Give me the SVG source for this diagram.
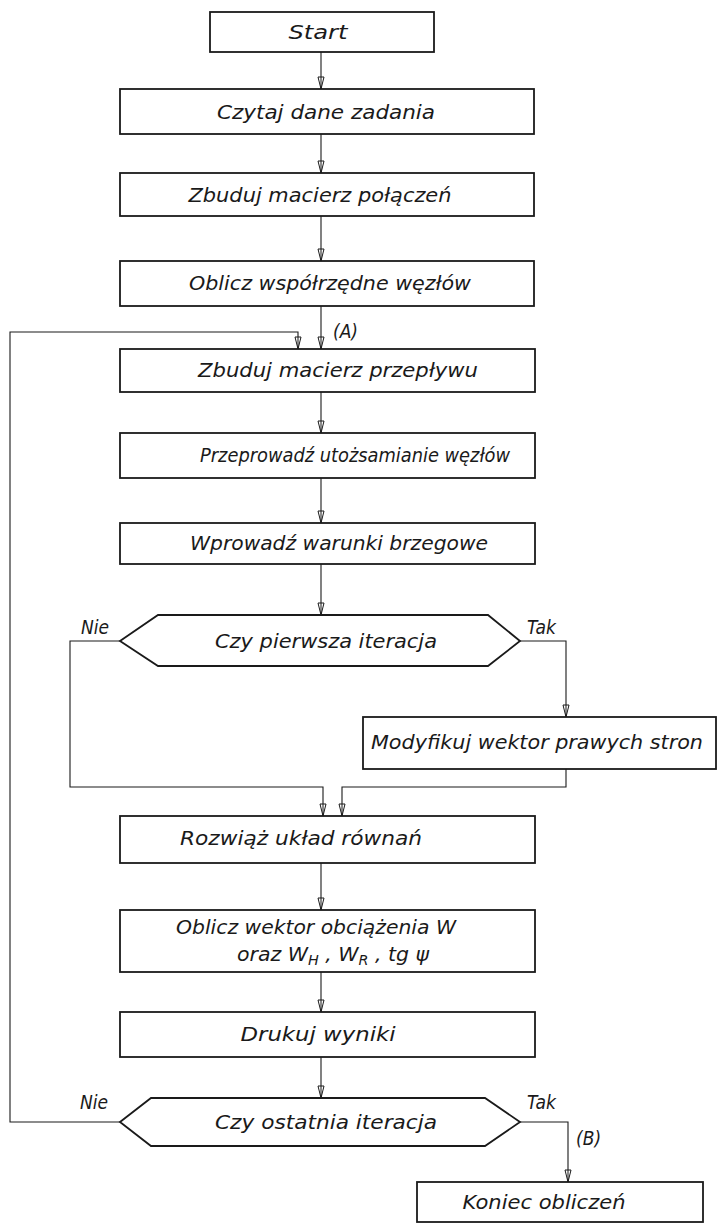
<svg xmlns="http://www.w3.org/2000/svg" width="718" height="1225" viewBox="0 0 718 1225">
<style>
.box{fill:#fff;stroke:#1a1a1a;stroke-width:1.8}
.ln{fill:none;stroke:#1a1a1a;stroke-width:1.1}
.t{font-family:"DejaVu Sans Condensed","DejaVu Sans",sans-serif;font-style:italic;font-size:20px;fill:#1a1a1a;text-anchor:middle}
.lbl{font-family:"DejaVu Sans Condensed","DejaVu Sans",sans-serif;font-style:italic;font-size:19px;fill:#1a1a1a}
</style>
<defs>
<marker id="ah" markerWidth="14" markerHeight="8" refX="13" refY="4" orient="auto" markerUnits="userSpaceOnUse" viewBox="0 0 14 8">
<path d="M1,1 L13,4 L1,7 Z M1,4 L13,4" fill="#fff" stroke="#1a1a1a" stroke-width="1"/>
</marker>
</defs>
<rect width="718" height="1225" fill="#fff"/>
<g id="connectors">
<path class="ln" d="M321,52 V89" marker-end="url(#ah)"/>
<path class="ln" d="M321,134 V173" marker-end="url(#ah)"/>
<path class="ln" d="M321,216 V261" marker-end="url(#ah)"/>
<path class="ln" d="M321,306 V349" marker-end="url(#ah)"/>
<path class="ln" d="M321,392 V433" marker-end="url(#ah)"/>
<path class="ln" d="M321,478 V523" marker-end="url(#ah)"/>
<path class="ln" d="M321,564 V615" marker-end="url(#ah)"/>
<path class="ln" d="M120,641 H70 V787 H323 V816" marker-end="url(#ah)"/>
<path class="ln" d="M520,641 H566 V717" marker-end="url(#ah)"/>
<path class="ln" d="M566,769 V787 H342 V816" marker-end="url(#ah)"/>
<path class="ln" d="M321,863 V910" marker-end="url(#ah)"/>
<path class="ln" d="M321,972 V1012" marker-end="url(#ah)"/>
<path class="ln" d="M321,1057 V1098" marker-end="url(#ah)"/>
<path class="ln" d="M120,1122 H10 V332 H298 V349" marker-end="url(#ah)"/>
<path class="ln" d="M520,1122 H568 V1182" marker-end="url(#ah)"/>
<text class="lbl" x="333" y="338">(A)</text>
<text class="lbl" x="576" y="1145">(B)</text>
<text class="lbl" x="81" y="634">Nie</text>
<text class="lbl" x="527" y="634">Tak</text>
<text class="lbl" x="80" y="1109">Nie</text>
<text class="lbl" x="527" y="1109">Tak</text>
</g>
<g id="start"><rect class="box" x="210" y="12" width="224" height="40"/><text class="t" x="318" y="39" textLength="59" lengthAdjust="spacingAndGlyphs">Start</text></g>
<g id="czytaj"><rect class="box" x="120" y="89" width="414" height="45"/><text class="t" x="326" y="119" textLength="218" lengthAdjust="spacingAndGlyphs">Czytaj dane zadania</text></g>
<g id="polaczen"><rect class="box" x="120" y="173" width="414" height="43"/><text class="t" x="320" y="202" textLength="263" lengthAdjust="spacingAndGlyphs">Zbuduj macierz połączeń</text></g>
<g id="wspolrzedne"><rect class="box" x="120" y="261" width="414" height="45"/><text class="t" x="330" y="290" textLength="282" lengthAdjust="spacingAndGlyphs">Oblicz współrzędne węzłów</text></g>
<g id="przeplywu"><rect class="box" x="120" y="349" width="415" height="43"/><text class="t" x="338" y="377" textLength="280" lengthAdjust="spacingAndGlyphs">Zbuduj macierz przepływu</text></g>
<g id="utozsamianie"><rect class="box" x="120" y="433" width="415" height="45"/><text class="t" x="355" y="462" textLength="310" lengthAdjust="spacingAndGlyphs">Przeprowadź utożsamianie węzłów</text></g>
<g id="warunki"><rect class="box" x="120" y="523" width="415" height="41"/><text class="t" x="339" y="550" textLength="298" lengthAdjust="spacingAndGlyphs">Wprowadź warunki brzegowe</text></g>
<g id="pierwsza"><polygon class="box" points="120,641 158,615 488,615 520,641 488,666 158,666"/><text class="t" x="326" y="648" textLength="222" lengthAdjust="spacingAndGlyphs">Czy pierwsza iteracja</text></g>
<g id="modyfikuj"><rect class="box" x="363" y="717" width="353" height="52"/><text class="t" x="537" y="749" textLength="332" lengthAdjust="spacingAndGlyphs">Modyfikuj wektor prawych stron</text></g>
<g id="rozwiaz"><rect class="box" x="120" y="816" width="415" height="47"/><text class="t" x="301" y="845" textLength="242" lengthAdjust="spacingAndGlyphs">Rozwiąż układ równań</text></g>
<g id="obciazenia"><rect class="box" x="120" y="910" width="415" height="62"/><text class="t" x="316" y="934" textLength="280" lengthAdjust="spacingAndGlyphs">Oblicz wektor obciążenia W</text><text class="t" x="333" y="961" textLength="192" lengthAdjust="spacingAndGlyphs">oraz W<tspan font-size="14" dy="4">H</tspan><tspan dy="-4"> , W</tspan><tspan font-size="14" dy="4">R</tspan><tspan dy="-4"> , tg ψ</tspan></text></g>
<g id="drukuj"><rect class="box" x="120" y="1012" width="415" height="45"/><text class="t" x="318" y="1041" textLength="155" lengthAdjust="spacingAndGlyphs">Drukuj wyniki</text></g>
<g id="ostatnia"><polygon class="box" points="120,1122 151,1098 485,1098 520,1122 485,1146 151,1146"/><text class="t" x="326" y="1129" textLength="222" lengthAdjust="spacingAndGlyphs">Czy ostatnia iteracja</text></g>
<g id="koniec"><rect class="box" x="417" y="1182" width="286" height="40"/><text class="t" x="544" y="1209" textLength="163" lengthAdjust="spacingAndGlyphs">Koniec obliczeń</text></g>
</svg>
